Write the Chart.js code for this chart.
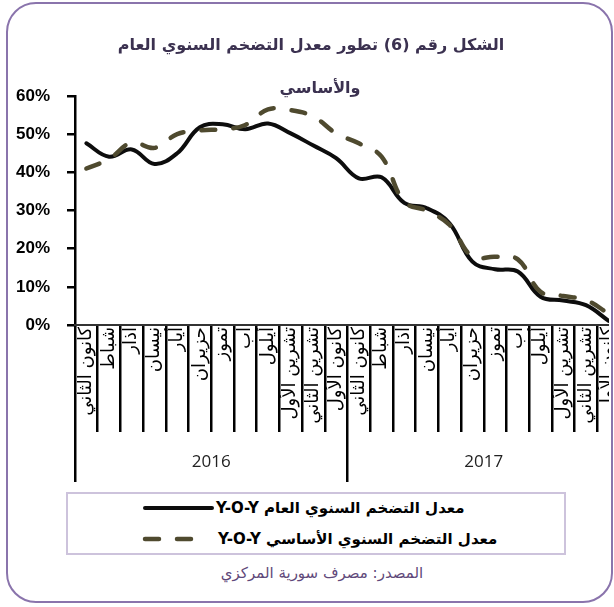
<!DOCTYPE html>
<html lang="ar">
<head>
<meta charset="utf-8">
<title>تطور معدل التضخم السنوي العام والأساسي</title>
<script src="https://cdn.jsdelivr.net/npm/chart.js@4.4.1/dist/chart.umd.min.js"></script>
<style>
  html, body { margin: 0; padding: 0; background: #fff; width: 614px; height: 607px; overflow: hidden; }
  #frame { position: absolute; left: 6px; top: 2px; width: 607px; height: 601px; box-sizing: border-box;
           border: 2px solid #8a74ac; border-radius: 30px; pointer-events: none; z-index: 5; }
  #clip { position: absolute; left: 0; top: 0; width: 609px; height: 492px; overflow: hidden; }
  .title { position: absolute; text-align: center; font: bold 16px "DejaVu Sans"; color: #3b3150; direction: rtl; white-space: nowrap; }
  #legend { position: absolute; left: 66px; top: 492px; width: 500px; height: 63px; box-sizing: border-box; border: 2px solid #cdc3dc; }
  .row { position: absolute; left: 73px; height: 24px; display: flex; align-items: center; }
  .row span { font: bold 15px "DejaVu Sans"; color: #000; white-space: nowrap; }
  #source { position: absolute; left: 0; width: 644px; top: 564px; text-align: center; font: 15px "DejaVu Sans"; color: #5f497a; direction: rtl; }
</style>
</head>
<body>
<div id="clip"><canvas id="inflationChart" width="620" height="490"></canvas></div>
<div class="title" style="left:0; width:622px; top:35px;">الشكل رقم (6) تطور معدل التضخم السنوي العام</div>
<div class="title" style="left:0; width:640px; top:78px;">والأساسي</div>
<div id="legend"></div>
<div id="source">المصدر: مصرف سورية المركزي</div>
<div id="frame"></div>

<script>
// months as written on the axis (Levant names)
const months = ['كانون الثاني', 'شباط', 'آذار', 'نيسان', 'أيار', 'حزيران', 'تموز', 'آب', 'أيلول', 'تشرين الأول', 'تشرين الثاني', 'كانون الأول'];
const years = ['2016', '2017'];

// Y-O-Y rates, %
const headlineInflation = [47.6, 44.1, 46.0, 42.2, 45.0, 51.8, 52.6, 51.3, 52.8, 50.2, 47.0, 43.7,
                           38.4, 38.7, 32.0, 30.6, 26.6, 16.6, 14.6, 14.0, 7.4, 6.4, 5.2, 1.1];
const coreInflation = [41.0, 43.5, 47.8, 46.4, 50.0, 51.0, 51.3, 52.4, 56.5, 56.3, 54.6, 50.2,
                       47.6, 44.1, 32.3, 29.9, 26.2, 17.9, 17.9, 17.2, 8.7, 7.6, 6.5, 3.0];

const seriesNames = ['معدل التضخم السنوي العام Y-O-Y', 'معدل التضخم السنوي الأساسي Y-O-Y'];

const periodLabels = years.flatMap(() => months);

const ctx = document.getElementById('inflationChart').getContext('2d');

const myChart = new Chart(ctx, {
  type: 'line',
  data: {
    labels: periodLabels,
    datasets: [
      {
        label: seriesNames[0],
        data: headlineInflation,
        borderColor: '#0d0d0d',
        borderWidth: 4,
        borderCapStyle: 'round',
        borderJoinStyle: 'round',
        tension: 0.4,
        pointRadius: 0,
        fill: false,
        order: 1
      },
      {
        label: seriesNames[1],
        data: coreInflation,
        borderColor: '#4f4a2f',
        borderWidth: 4.5,
        borderDash: [14, 18],
        borderCapStyle: 'round',
        tension: 0.4,
        pointRadius: 0,
        fill: false,
        order: 0
      }
    ]
  },
  options: {
    responsive: false,
    animation: false,
    layout: { padding: { top: 96, left: 0, right: 0, bottom: 8 } },
    plugins: {
      legend: { display: false },
      tooltip: { enabled: false }
    },
    scales: {
      y: {
        min: 0,
        max: 60,
        ticks: {
          stepSize: 10,
          padding: 17,
          color: '#000',
          font: { family: 'Liberation Sans', size: 17, weight: 'bold' },
          callback: v => v + '%'
        },
        grid: { drawOnChartArea: false, tickLength: 8, lineWidth: 2.5, color: '#000' },
        border: { color: '#000', width: 2.5 },
        afterFit: s => { s.width = 75; }
      },
      x: {
        type: 'category',
        offset: true,
        grid: { offset: true, drawOnChartArea: false, tickLength: 107, lineWidth: 2.5, color: '#000' },
        border: { color: '#333', width: 2 },
        ticks: {
          autoSkip: false,
          minRotation: 90,
          maxRotation: 90,
          padding: -105,
          color: '#000',
          font: { family: 'DejaVu Sans', size: 18, lineHeight: 1.1 }
        },
        afterFit: s => { s.height = 107; }
      },
      years: {
        type: 'category',
        labels: years,
        position: 'bottom',
        offset: true,
        grid: { offset: true, drawOnChartArea: false, tickLength: 50, lineWidth: 2.5, color: '#000' },
        border: { display: false },
        ticks: {
          autoSkip: false,
          maxRotation: 0,
          padding: -30,
          color: '#222',
          font: { family: 'Open Sans', size: 17 }
        },
        afterFit: s => { s.height = 50; }
      }
    }
  }
});

// legend drawn as html, styled from the datasets
function buildLegend(chart) {
  const box = document.getElementById('legend');
  const tops = [1.7, 33.3];
  chart.data.datasets.forEach((ds, i) => {
    const row = document.createElement('div');
    row.className = 'row';
    row.style.top = tops[i] + 'px';
    const w = i === 0 ? 75 : 77;
    const x2 = i === 0 ? 71 : 52;
    const dash = ds.borderDash ? `stroke-dasharray="${ds.borderDash.join(' ')}"` : '';
    row.innerHTML = `
      <svg width="${w}" height="10"><line x1="4" y1="5" x2="${x2}" y2="5" stroke="${ds.borderColor}"
        stroke-width="${ds.borderWidth}" stroke-linecap="round" ${dash}/></svg>
      <span dir="rtl">${ds.label}</span>`;
    box.appendChild(row);
  });
}

buildLegend(myChart);
</script>
</body>
</html>
